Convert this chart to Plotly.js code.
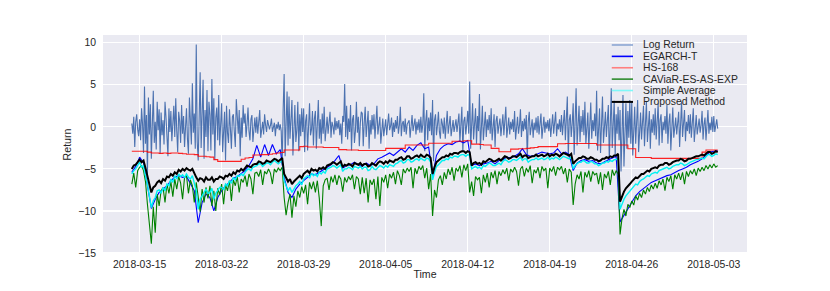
<!DOCTYPE html>
<html><head><meta charset="utf-8">
<script src="https://cdn.plot.ly/plotly-3.0.1.min.js"></script>
<style>html,body{margin:0;padding:0;background:#fff;} #chart{width:830px;height:291px;}</style>
</head><body><div id="chart"></div>
<script>
// time base: first observation and sampling steps (hours)
const START = '2018-03-14T08:00:00Z';
const STEP_RET = 2;     // hours, log return
const STEP_FINE = 4;    // hours, CAViaR, Simple Average, Proposed
const STEP_COARSE = 8;  // hours, EGARCH-T, HS-168

const seriesNames = ['Log Return', 'EGARCH-T', 'HS-168', 'CAViaR-ES-AS-EXP', 'Simple Average', 'Proposed Method'];
const xTickDates = ['2018-03-15','2018-03-22','2018-03-29','2018-04-05','2018-04-12','2018-04-19','2018-04-26','2018-05-03'];
const yTickVals = [-15, -10, -5, 0, 5, 10];

// 2-hourly log return
const logReturn = [
 0.4,-0.8,1.2,-2.4,0.6,1.5,-0.3,-1.1,
 0.9,-1.6,2.2,0.3,-3.1,4.8,-2.0,1.4,-5.8,3.5,-0.9,2.7,
 -3.8,1.1,4.3,-1.9,0.6,-2.7,3.0,-0.4,2.1,-3.2,1.7,-1.0,
 0.8,-2.1,3.0,1.2,-1.4,-3.5,2.2,-0.6,1.9,-1.7,0.4,2.5,
 -1.2,3.4,-0.5,-3.0,1.8,0.7,-1.9,2.6,-0.8,1.3,-2.4,0.9,
 2.2,-1.5,-3.2,3.5,0.9,-2.1,5.2,-0.7,1.6,-2.6,9.8,-1.8,
 -4.0,3.1,6.5,-2.5,0.8,5.6,-3.8,2.0,-1.2,4.4,-2.9,3.0,
 1.4,-2.8,5.7,-0.9,3.4,-3.9,1.1,2.3,-1.6,3.8,-2.2,0.5,
 2.8,-3.0,0.6,1.8,-4.0,2.5,-0.7,-1.9,2.1,0.3,-2.6,1.2,
 1.5,-0.6,-2.4,3.3,0.2,-0.8,2.0,-3.5,1.1,-1.3,2.6,0.4,
 1.6,-1.2,0.3,2.3,-0.5,-1.6,0.9,1.4,-1.8,0.2,1.1,-0.7,
 1.2,-0.8,0.4,2.0,-1.3,0.1,0.6,-0.9,1.5,0.2,-0.6,0.8,
 0.4,-0.3,0.2,1.0,-0.6,0.1,0.5,-1.1,0.3,-0.2,0.6,-0.4,
 0.3,-0.5,-4.6,2.1,6.3,-3.5,1.2,4.2,-2.2,3.6,-1.4,0.8,
 3.2,-3.4,1.0,2.6,-1.8,-0.4,3.0,-2.9,1.5,-1.1,2.2,-0.6,
 2.2,-3.0,0.7,1.5,-2.8,0.4,2.8,-1.0,-0.3,1.9,-2.2,1.0,
 1.9,-2.6,0.5,3.2,-1.4,0.9,-2.0,1.6,-0.8,2.4,-1.7,0.3,
 1.2,-0.8,0.2,1.8,-1.3,0.6,0.1,-0.9,1.1,-0.4,0.7,-0.2,
 0.8,-1.0,0.4,-2.0,1.3,0.6,5.1,-1.2,2.5,-1.5,1.0,-0.6,
 2.6,-2.8,0.9,1.4,-1.9,-0.5,3.0,-0.7,1.2,-2.3,0.4,1.8,
 1.6,-2.3,0.5,2.4,-1.2,0.3,1.9,-2.6,0.8,-0.9,1.4,-0.3,
 1.5,-1.4,0.2,2.5,-0.9,0.6,1.2,-2.0,0.4,1.0,-1.1,0.5,
 0.9,-1.0,0.3,1.6,-0.4,0.1,1.1,-1.2,0.5,-0.6,0.8,-0.2,
 1.3,-0.8,0.2,2.4,-1.1,0.4,0.7,-0.6,1.0,-0.9,0.3,0.6,
 0.8,-1.3,0.1,1.4,-0.5,0.3,1.0,-0.9,0.6,-0.4,0.9,-0.7,
 1.2,-0.7,0.3,4.0,-2.9,0.6,2.0,-1.6,1.1,-0.5,1.7,-1.0,
 3.2,-4.1,0.8,1.5,-1.0,0.2,1.8,-0.6,-1.4,1.0,0.4,-0.8,
 1.1,-1.4,0.3,1.9,-0.8,0.5,1.3,-1.1,0.2,0.8,-0.6,0.4,
 0.9,-0.6,0.2,1.6,-1.8,0.5,2.4,-3.0,0.7,1.2,-0.9,0.3,
 1.9,-0.8,5.4,-2.6,0.9,2.8,-1.5,0.4,2.2,-2.0,1.3,-0.5,
 3.9,-2.7,0.6,2.5,-1.6,0.3,1.8,-1.2,0.9,-0.4,1.4,-0.8,
 2.2,-1.6,0.4,1.5,-2.4,0.7,1.3,-0.8,0.2,1.0,-1.1,0.5,
 1.5,-1.0,0.3,2.4,-1.3,0.5,1.1,-0.9,0.6,-0.3,0.9,-0.6,
 1.9,-1.5,0.4,1.2,-0.8,0.2,2.1,-1.2,0.7,-0.5,1.0,-0.3,
 1.4,-3.9,0.6,1.8,-1.0,0.3,0.9,-1.3,0.5,-0.4,1.1,-0.7,
 1.3,-0.9,0.2,1.6,-1.4,0.4,1.2,-0.7,0.6,-0.2,0.8,-0.5,
 1.0,-1.2,0.3,1.5,-0.8,0.5,1.8,-1.1,0.4,-0.3,0.9,-0.6,
 1.4,-1.0,0.3,2.0,-1.6,0.6,3.6,-3.6,0.8,1.5,-1.2,0.4,
 2.8,-3.3,0.9,4.6,-2.2,0.5,2.5,-1.8,1.3,-0.6,2.0,-1.0,
 3.0,-2.0,0.7,1.7,-2.6,0.4,2.9,-1.4,0.8,-0.5,1.6,-1.1,
 4.3,-2.8,0.6,2.2,-3.1,1.0,3.6,-1.9,0.5,1.8,-1.2,0.9,
 2.6,-4.1,1.2,4.6,-2.5,0.7,3.1,-3.4,1.5,-0.8,2.4,-1.6,
 2.0,-5.3,1.4,3.8,-4.7,0.6,2.8,-2.6,1.9,-1.3,3.2,-2.0,
 3.0,-3.4,0.8,2.4,-2.0,1.1,3.2,-3.0,0.5,1.7,-1.5,0.9,
 2.5,-2.3,0.6,3.0,-1.8,0.4,1.9,-2.6,0.9,-0.7,1.5,-1.0,
 2.2,-1.5,0.4,2.8,-2.2,0.8,1.5,-1.9,0.6,-0.4,1.3,-0.8,
 2.6,-2.0,0.5,1.6,-2.8,0.9,2.3,-1.3,0.4,1.1,-0.9,0.3,
 1.8,-2.4,0.7,3.0,-1.2,0.3,2.0,-1.7,0.6,-0.5,1.4,-0.8,
 1.5,-1.3,0.4,2.2,-1.8,0.6,1.4,-0.9,0.3,1.0,-0.7,0.2,
 1.9,-1.5,0.3,1.1,-1.6,0.7,2.0,-0.8,0.5,-0.4,1.2,-0.6,
 1.3,-0.6,0.4,0.9,-0.2
];

// 8-hourly EGARCH-T VaR
const egarchT = [
 -5.4,-4.7,
 -3.6,-4.3,-7.0,
 -9.7,-8.6,-7.8,
 -7.4,-7.0,-6.4,
 -6.0,-5.8,-6.0,
 -5.9,-6.8,-7.6,
 -11.4,-9.0,-8.0,
 -8.4,-10.0,-8.4,
 -7.6,-7.0,-6.6,
 -6.1,-5.9,-5.6,
 -5.2,-4.6,-3.8,
 -2.2,-3.6,-2.1,
 -3.4,-2.1,-3.2,
 -2.7,-6.0,-7.8,
 -8.4,-7.4,-6.8,
 -6.4,-6.0,-5.6,
 -5.7,-5.4,-5.2,
 -4.8,-4.5,-4.0,
 -3.4,-4.9,-4.6,
 -4.5,-4.2,-4.5,
 -4.7,-4.3,-4.6,
 -4.4,-3.8,-3.6,
 -3.3,-3.1,-3.4,
 -3.0,-2.6,-3.0,
 -2.4,-2.8,-2.2,
 -1.9,-2.6,-2.4,
 -5.8,-3.4,-2.6,
 -2.2,-2.0,-2.1,
 -1.8,-1.7,-1.9,
 -1.6,-4.6,-4.4,
 -4.6,-4.4,-4.3,
 -4.1,-4.4,-4.0,
 -3.9,-3.6,-3.7,
 -3.5,-3.2,-2.6,
 -3.3,-3.5,-3.4,
 -3.2,-3.0,-3.1,
 -3.2,-3.1,-2.6,
 -3.2,-3.0,-3.3,
 -5.2,-4.3,-4.0,
 -3.9,-4.1,-4.0,
 -4.3,-4.4,-4.1,
 -3.9,-3.7,-3.5,
 -11.3,-10.5,-9.8,
 -8.9,-8.2,-7.7,
 -7.3,-6.9,-6.6,
 -6.4,-6.2,-6.0,
 -5.8,-5.7,-5.4,
 -5.2,-5.0,-4.8,
 -4.5,-4.3,-4.1,
 -3.8,-3.4,-3.0,
 -2.9,-2.8
];

// 8-hourly HS-168 VaR
const hs168 = [
 -2.9,-2.9,
 -2.9,-2.9,-3.0,
 -3.1,-3.1,-3.15,
 -3.1,-3.15,-3.1,
 -3.1,-3.15,-3.2,
 -3.25,-3.25,-3.3,
 -3.5,-3.5,-3.55,
 -3.6,-3.9,-4.1,
 -4.1,-4.1,-4.1,
 -4.1,-4.1,-3.85,
 -3.7,-3.65,-3.35,
 -3.35,-3.3,-3.3,
 -3.25,-3.2,-3.1,
 -3.05,-2.75,-2.75,
 -2.75,-2.75,-2.35,
 -2.3,-2.4,-2.4,
 -2.4,-2.4,-2.45,
 -2.45,-2.45,-2.45,
 -2.7,-2.7,-2.75,
 -2.75,-2.75,-2.8,
 -2.8,-2.8,-2.8,
 -2.8,-2.8,-2.8,
 -2.55,-2.55,-2.55,
 -2.55,-2.55,-2.15,
 -2.15,-2.15,-2.15,
 -2.15,-2.15,-1.95,
 -1.95,-1.95,-1.95,
 -1.95,-1.95,-1.7,
 -1.7,-1.7,-1.65,
 -1.65,-2.05,-2.05,
 -2.1,-2.15,-2.15,
 -2.55,-2.55,-2.95,
 -2.95,-2.95,-2.65,
 -2.65,-2.6,-2.6,
 -2.55,-2.5,-2.45,
 -2.35,-2.35,-2.35,
 -2.35,-2.35,-2.0,
 -2.0,-1.98,-1.98,
 -1.98,-1.98,-1.98,
 -1.98,-1.98,-1.98,
 -2.15,-2.15,-2.15,
 -2.15,-2.15,-2.15,
 -2.15,-2.15,-2.6,
 -2.6,-3.65,-3.65,
 -3.65,-3.65,-3.75,
 -3.75,-3.75,-3.75,
 -3.75,-3.75,-3.75,
 -3.75,-3.75,-3.75,
 -3.75,-3.75,-3.75,
 -3.0,-2.75,-2.75,
 -2.75,-2.75
];

// 4-hourly CAViaR-ES-AS-EXP VaR
const caviar = [
 -6.8,-5.5,-7.2,-5.2,
 -4.8,-4.6,-5.2,-6.5,-9.2,-12.0,
 -13.9,-9.5,-12.6,-8.0,-9.4,-7.6,
 -7.2,-9.0,-6.8,-7.9,-6.5,-8.3,
 -6.2,-7.4,-5.9,-6.7,-8.6,-6.0,
 -5.8,-7.9,-6.3,-7.0,-9.0,-6.6,
 -8.2,-10.1,-7.4,-9.0,-7.2,-8.5,
 -7.0,-9.4,-7.6,-10.0,-7.3,-8.1,
 -6.8,-9.2,-6.9,-7.6,-6.4,-8.8,
 -6.3,-7.0,-5.9,-7.8,-6.2,-6.6,
 -5.8,-7.1,-5.6,-6.2,-8.0,-5.5,
 -5.4,-5.9,-5.1,-6.9,-5.3,-5.6,
 -5.0,-5.5,-6.8,-5.0,-5.4,-4.9,
 -5.2,-4.8,-8.4,-10.5,-9.0,-8.0,
 -10.8,-8.2,-9.5,-7.6,-8.4,-7.1,
 -7.9,-6.9,-9.2,-6.6,-7.4,-6.5,
 -7.8,-6.4,-8.5,-11.8,-7.0,-6.3,
 -6.1,-7.5,-5.9,-6.6,-5.7,-6.9,
 -5.8,-6.2,-7.7,-6.0,-6.6,-5.9,
 -6.3,-5.7,-7.4,-5.9,-6.2,-8.0,
 -6.0,-7.9,-6.1,-9.0,-6.3,-6.9,
 -6.2,-8.6,-5.9,-9.4,-6.0,-6.6,
 -5.7,-7.3,-5.6,-6.1,-5.4,-6.8,
 -5.2,-5.8,-6.9,-5.0,-5.5,-4.9,
 -5.3,-4.8,-7.3,-4.9,-5.6,-4.7,
 -5.1,-4.6,-6.1,-4.9,-7.4,-5.6,
 -10.6,-7.5,-8.4,-6.3,-5.8,-6.9,
 -5.4,-6.2,-5.0,-5.7,-4.8,-6.4,
 -4.9,-5.3,-4.6,-6.0,-4.5,-5.2,
 -4.4,-7.8,-6.5,-8.2,-5.9,-6.3,
 -6.0,-7.9,-5.7,-6.6,-5.5,-7.2,
 -5.4,-6.1,-5.2,-6.8,-5.3,-5.8,
 -5.1,-5.6,-4.9,-6.4,-5.0,-5.4,
 -4.8,-5.3,-7.0,-5.0,-4.7,-5.9,
 -4.9,-5.4,-4.6,-6.7,-5.1,-5.5,
 -4.8,-6.1,-4.7,-5.2,-4.9,-7.3,
 -4.9,-5.3,-4.7,-5.8,-4.8,-5.1,
 -4.7,-5.6,-4.9,-6.6,-5.0,-5.4,
 -9.3,-6.8,-5.7,-6.2,-5.3,-7.8,
 -5.4,-6.0,-5.2,-6.5,-5.3,-5.7,
 -5.5,-6.8,-5.4,-7.5,-5.6,-6.1,
 -5.3,-6.9,-5.1,-5.8,-5.2,-5.6,
 -12.8,-10.9,-9.8,-10.6,-9.2,-9.6,
 -8.8,-9.3,-8.2,-8.7,-7.9,-8.4,
 -7.5,-8.0,-7.2,-7.7,-6.9,-7.4,
 -6.7,-7.3,-6.4,-6.9,-6.2,-7.6,
 -6.0,-6.5,-5.8,-7.4,-5.7,-6.2,
 -5.5,-6.3,-5.4,-6.8,-5.3,-5.9,
 -5.2,-5.6,-5.0,-5.8,-4.9,-5.3,
 -4.8,-5.2,-4.6,-5.0,-4.5,-4.9,
 -4.4,-4.8,-4.6
];

// 4-hourly Simple Average VaR
const simpleAvg = [
 -5.6,-5.2,-5.0,-4.6,
 -4.2,-4.8,-4.6,-5.8,-6.8,-8.2,
 -9.6,-8.8,-8.4,-7.6,-7.5,-7.9,
 -7.2,-7.6,-6.8,-7.0,-6.2,-6.6,
 -5.8,-6.2,-5.6,-5.9,-5.7,-6.0,
 -5.6,-6.0,-6.2,-5.8,-6.8,-7.6,
 -9.8,-8.6,-8.2,-7.8,-7.4,-7.9,
 -7.8,-7.3,-8.6,-7.9,-7.6,-7.2,
 -7.2,-7.5,-6.8,-7.0,-6.4,-6.7,
 -6.0,-6.3,-5.8,-5.9,-5.6,-5.8,
 -5.4,-5.1,-5.0,-5.2,-4.8,-4.7,
 -4.6,-4.4,-4.4,-4.7,-4.5,-4.3,
 -4.3,-4.5,-4.2,-4.0,-4.2,-4.4,
 -4.2,-4.0,-6.4,-7.0,-7.6,-7.2,
 -7.8,-7.4,-7.0,-6.8,-6.5,-6.9,
 -6.2,-6.0,-5.8,-6.1,-5.5,-5.8,
 -5.6,-5.9,-5.4,-5.6,-5.3,-5.5,
 -5.0,-4.9,-4.8,-4.6,-4.7,-4.9,
 -4.7,-4.5,-5.3,-5.0,-5.0,-4.8,
 -4.9,-5.1,-4.7,-4.8,-4.9,-4.7,
 -5.0,-4.8,-4.8,-5.2,-5.1,-4.7,
 -5.0,-5.1,-4.8,-4.6,-4.7,-4.9,
 -4.6,-4.8,-4.5,-4.6,-4.7,-4.4,
 -4.3,-4.1,-4.0,-4.3,-4.2,-3.9,
 -3.9,-4.2,-4.1,-3.9,-3.8,-4.0,
 -3.7,-3.9,-4.0,-3.7,-3.8,-4.2,
 -6.3,-5.4,-4.7,-4.5,-4.3,-4.0,
 -4.0,-3.8,-3.9,-3.6,-3.7,-3.5,
 -3.5,-3.6,-3.4,-3.3,-3.3,-3.5,
 -3.3,-3.4,-5.0,-4.8,-4.7,-4.9,
 -4.8,-5.0,-4.6,-4.7,-4.5,-4.3,
 -4.4,-4.6,-4.6,-4.4,-4.3,-4.5,
 -4.1,-3.9,-4.0,-4.2,-4.1,-3.9,
 -3.9,-4.0,-3.8,-3.6,-4.0,-3.8,
 -3.8,-4.2,-4.0,-3.9,-3.9,-3.7,
 -3.9,-3.8,-3.7,-3.9,-3.8,-3.6,
 -3.9,-3.7,-3.8,-3.6,-3.7,-3.9,
 -3.7,-3.5,-3.6,-3.7,-3.8,-3.6,
 -5.0,-4.6,-4.4,-4.2,-4.2,-4.0,
 -4.1,-4.3,-4.3,-4.1,-4.2,-4.4,
 -4.4,-4.6,-4.5,-4.3,-4.3,-4.1,
 -4.2,-4.0,-4.1,-3.9,-3.9,-3.7,
 -9.8,-9.1,-8.6,-8.2,-7.9,-7.6,
 -7.3,-7.1,-6.8,-6.9,-6.5,-6.3,
 -6.2,-6.0,-5.8,-5.9,-5.6,-5.5,
 -5.4,-5.5,-5.2,-5.1,-5.0,-4.9,
 -4.8,-5.0,-4.9,-4.7,-4.6,-4.5,
 -4.5,-4.3,-4.4,-4.6,-4.5,-4.3,
 -4.2,-4.1,-4.0,-3.9,-3.9,-3.8,
 -3.7,-3.8,-3.5,-3.3,-3.3,-3.5,
 -3.4,-3.2,-3.3
];

// 4-hourly Proposed Method VaR
const proposed = [
 -5.0,-4.6,-4.5,-4.2,
 -3.9,-4.2,-4.0,-4.9,-5.8,-6.9,
 -7.8,-7.2,-7.0,-6.6,-6.4,-6.7,
 -6.2,-6.4,-5.9,-6.0,-5.6,-5.8,
 -5.4,-5.6,-5.1,-5.3,-5.0,-5.2,
 -4.9,-5.1,-5.2,-5.0,-5.6,-6.0,
 -6.4,-6.1,-6.2,-6.5,-6.0,-6.3,
 -6.3,-6.0,-6.5,-6.2,-6.2,-5.9,
 -6.0,-6.2,-5.8,-5.9,-5.6,-5.8,
 -5.4,-5.6,-5.2,-5.3,-5.0,-5.2,
 -4.9,-4.6,-4.7,-4.8,-4.5,-4.4,
 -4.4,-4.1,-4.2,-4.4,-4.3,-4.0,
 -4.1,-4.2,-4.0,-3.8,-3.9,-4.1,
 -3.9,-3.7,-5.6,-6.1,-6.5,-6.2,
 -6.8,-6.5,-6.3,-6.0,-5.8,-6.1,
 -5.6,-5.4,-5.2,-5.5,-5.0,-5.2,
 -5.1,-5.3,-4.9,-5.0,-4.8,-5.0,
 -4.6,-4.5,-4.4,-4.2,-4.3,-4.5,
 -4.3,-4.1,-4.8,-4.5,-4.6,-4.4,
 -4.5,-4.7,-4.3,-4.4,-4.5,-4.3,
 -4.6,-4.4,-4.4,-4.7,-4.6,-4.3,
 -4.5,-4.6,-4.3,-4.1,-4.2,-4.4,
 -4.1,-4.3,-4.0,-4.1,-4.2,-3.9,
 -3.9,-3.7,-3.6,-3.9,-3.8,-3.5,
 -3.5,-3.8,-3.7,-3.5,-3.4,-3.6,
 -3.3,-3.5,-3.6,-3.3,-3.4,-3.7,
 -5.6,-4.8,-4.2,-4.0,-3.8,-3.6,
 -3.6,-3.4,-3.5,-3.2,-3.3,-3.1,
 -3.1,-3.2,-3.0,-2.9,-2.9,-3.1,
 -2.9,-3.0,-4.6,-4.3,-4.2,-4.4,
 -4.3,-4.5,-4.1,-4.2,-4.0,-3.8,
 -3.9,-4.1,-4.1,-3.9,-3.8,-4.0,
 -3.7,-3.5,-3.6,-3.8,-3.7,-3.5,
 -3.5,-3.6,-3.4,-3.2,-3.6,-3.4,
 -3.4,-3.7,-3.6,-3.5,-3.5,-3.3,
 -3.5,-3.4,-3.3,-3.5,-3.4,-3.2,
 -3.5,-3.3,-3.4,-3.2,-3.3,-3.5,
 -3.3,-3.1,-3.2,-3.3,-3.4,-3.2,
 -4.4,-4.1,-3.9,-3.7,-3.7,-3.5,
 -3.6,-3.8,-3.8,-3.6,-3.7,-3.9,
 -3.9,-4.1,-4.0,-3.8,-3.8,-3.6,
 -3.7,-3.5,-3.6,-3.4,-3.4,-3.2,
 -8.9,-8.2,-7.7,-7.3,-7.1,-6.8,
 -6.5,-6.3,-6.0,-6.1,-5.8,-5.6,
 -5.6,-5.4,-5.2,-5.3,-5.0,-4.9,
 -4.8,-4.9,-4.6,-4.5,-4.5,-4.3,
 -4.3,-4.5,-4.4,-4.2,-4.1,-4.0,
 -4.0,-3.8,-3.9,-4.1,-4.0,-3.8,
 -3.8,-3.7,-3.6,-3.5,-3.5,-3.4,
 -3.3,-3.4,-3.2,-3.0,-3.0,-3.2,
 -3.1,-2.9,-3.0
];

function timeAxis(n, stepHours) {
  const t0 = Date.parse(START);
  const out = [];
  for (let i = 0; i < n; i++) {
    out.push(new Date(t0 + i * stepHours * 3600000).toISOString().slice(0, 16).replace('T', ' '));
  }
  return out;
}

const colors = ['#4C72B0', '#0000FF', 'rgba(255,0,0,0.85)', '#008000', '#00F2F2', '#000000'];
const widths = [1.1, 1.1, 1.1, 1.1, 1.4, 2.0];
const dataSets = [logReturn, egarchT, hs168, caviar, simpleAvg, proposed];
const steps = [STEP_RET, STEP_COARSE, STEP_COARSE, STEP_FINE, STEP_FINE, STEP_FINE];

const traces = dataSets.map((ys, i) => ({
  type: 'scatter', mode: 'lines', name: seriesNames[i],
  x: timeAxis(ys.length, steps[i]), y: ys,
  line: {color: colors[i], width: widths[i], shape: i === 2 ? 'hv' : 'linear'},
  showlegend: false, hoverinfo: 'skip'
}));

// manual legend (matplotlib style, no frame)
const legY = [0.9544, 0.9024, 0.8504, 0.7985, 0.7465, 0.6945];
const legendColors = ['#8CA6D3', '#0000FF', '#FF7F7F', '#2E8B2E', '#7FF8F8', '#000000'];
const shapes = seriesNames.map((n, i) => ({
  type: 'line', xref: 'paper', yref: 'paper', x0: 0.790, x1: 0.823, y0: legY[i], y1: legY[i],
  line: {color: legendColors[i], width: i === 5 ? 2 : 1.6}
}));
const annotations = seriesNames.map((n, i) => ({
  xref: 'paper', yref: 'paper', x: 0.836, y: legY[i], xanchor: 'left', yanchor: 'middle',
  text: n, showarrow: false, font: {size: 10.4, color: '#262626'}
}));

const layout = {
  width: 830, height: 291,
  margin: {l: 103.4, r: 82.6, t: 35, b: 36.7, pad: 0},
  paper_bgcolor: '#ffffff', plot_bgcolor: '#EAEAF2',
  font: {family: 'Liberation Sans, Arial, sans-serif', size: 10.4, color: '#262626'},
  xaxis: {
    type: 'date', range: ['2018-03-11 21:00', '2018-05-05 20:00'],
    tickvals: xTickDates, tickformat: '%Y-%m-%d',
    showgrid: true, gridcolor: '#ffffff', gridwidth: 1.1, zeroline: false, showline: false,
    ticks: '', ticklabelstandoff: 3,
    title: {text: 'Time', font: {size: 10.6, color: '#262626'}, standoff: 1}
  },
  yaxis: {
    range: [-15.12, 10.93], tickvals: yTickVals,
    showgrid: true, gridcolor: '#ffffff', gridwidth: 1.1, zeroline: false, showline: false,
    ticks: '', ticklabelstandoff: 6,
    title: {text: 'Return', font: {size: 10.6, color: '#262626'}, standoff: 4}
  },
  shapes: shapes, annotations: annotations, showlegend: false
};

Plotly.newPlot('chart', traces, layout, {displayModeBar: false, staticPlot: true});
</script>
</body></html>
